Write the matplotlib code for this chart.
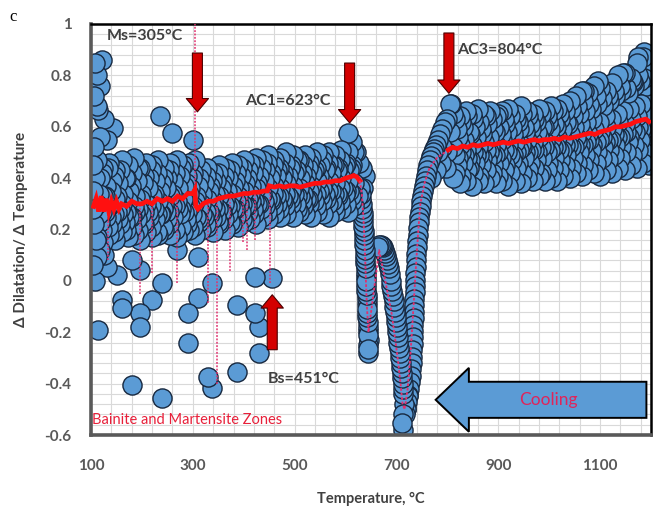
import numpy as np
import matplotlib
matplotlib.use("Agg")
import matplotlib.pyplot as plt
from matplotlib.ticker import FixedLocator

# ---------------- data ----------------
x_ticks = [100, 300, 500, 700, 900, 1100]
y_ticks = [-0.6, -0.4, -0.2, 0.0, 0.2, 0.4, 0.6, 0.8, 1.0]
y_tick_labels = ["-0.6", "-0.4", "-0.2", "0", "0.2", "0.4", "0.6", "0.8", "1"]

# low-temperature band (bainite / martensite / ferrite region)
low_a_T = [112, 124, 136, 148, 160, 172, 184, 196, 208, 220, 232, 244, 256, 268, 280,
           292, 304, 316, 328, 340, 352, 364, 376, 388, 400, 412, 424, 436, 448, 460,
           472, 484, 496, 508, 520, 532, 544, 556, 568, 580, 592, 604, 616]
low_row1 = [0.47, 0.44, 0.46, 0.43, 0.47, 0.45, 0.48, 0.44, 0.46, 0.45, 0.47, 0.44, 0.46, 0.47, 0.45,
            0.46, 0.47, 0.43, 0.44, 0.42, 0.45, 0.44, 0.46, 0.45, 0.47, 0.46, 0.48, 0.47, 0.49, 0.47,
            0.48, 0.50, 0.49, 0.47, 0.49, 0.48, 0.50, 0.49, 0.50, 0.49, 0.51, 0.50, 0.50]
low_row3 = [0.30, 0.33, 0.29, 0.32, 0.30, 0.31, 0.29, 0.32, 0.30, 0.33, 0.31, 0.30, 0.33, 0.31, 0.32,
            0.34, 0.31, 0.30, 0.32, 0.31, 0.33, 0.32, 0.34, 0.33, 0.35, 0.34, 0.36, 0.34, 0.36, 0.37,
            0.36, 0.38, 0.37, 0.36, 0.38, 0.37, 0.39, 0.38, 0.39, 0.38, 0.40, 0.39, 0.38]
low_row5 = [0.17, 0.15, 0.18, 0.16, 0.19, 0.17, 0.18, 0.16, 0.19, 0.17, 0.18, 0.20, 0.18, 0.17, 0.19,
            0.20, 0.18, 0.20, 0.21, 0.19, 0.22, 0.20, 0.22, 0.21, 0.23, 0.24, 0.22, 0.25, 0.24, 0.26,
            0.25, 0.26, 0.25, 0.27, 0.26, 0.25, 0.27, 0.26, 0.25, 0.27, 0.28, 0.27, 0.29]
low_b_T = [118, 130, 142, 154, 166, 178, 190, 202, 214, 226, 238, 250, 262, 274, 286,
           298, 310, 322, 334, 346, 358, 370, 382, 394, 406, 418, 430, 442, 454, 466,
           478, 490, 502, 514, 526, 538, 550, 562, 574, 586, 598, 610]
low_row2 = [0.40, 0.37, 0.39, 0.38, 0.40, 0.37, 0.39, 0.38, 0.40, 0.39, 0.38, 0.40, 0.39, 0.41, 0.38,
            0.40, 0.37, 0.38, 0.37, 0.39, 0.38, 0.40, 0.39, 0.41, 0.40, 0.42, 0.41, 0.43, 0.42, 0.43,
            0.42, 0.44, 0.43, 0.42, 0.44, 0.43, 0.45, 0.44, 0.45, 0.44, 0.45, 0.44]
low_row4 = [0.23, 0.25, 0.22, 0.24, 0.23, 0.25, 0.24, 0.23, 0.25, 0.24, 0.26, 0.24, 0.25, 0.26, 0.24,
            0.26, 0.24, 0.25, 0.26, 0.25, 0.27, 0.26, 0.28, 0.27, 0.29, 0.28, 0.30, 0.29, 0.31, 0.30,
            0.31, 0.32, 0.30, 0.31, 0.32, 0.31, 0.33, 0.32, 0.31, 0.33, 0.34, 0.33]
low_c_T = [121, 133, 145, 157, 169, 181, 193, 205, 217, 229, 241, 253, 265, 277, 289,
           301, 313, 325, 337, 349, 361, 373, 385, 397, 409, 421, 433, 445, 457, 469,
           481, 493, 505, 517, 529, 541, 553, 565, 577, 589, 601, 613]
low_row_c1 = [0.42, 0.44, 0.41, 0.43, 0.40, 0.42, 0.44, 0.41, 0.43, 0.42, 0.40, 0.43, 0.42, 0.44, 0.41,
              0.42, 0.40, 0.41, 0.39, 0.42, 0.41, 0.43, 0.42, 0.44, 0.43, 0.45, 0.44, 0.46, 0.45, 0.44,
              0.46, 0.45, 0.47, 0.45, 0.46, 0.44, 0.47, 0.46, 0.45, 0.47, 0.46, 0.45]
low_row_c2 = [0.27, 0.29, 0.26, 0.28, 0.27, 0.25, 0.28, 0.27, 0.29, 0.26, 0.28, 0.27, 0.29, 0.28, 0.27,
              0.29, 0.28, 0.27, 0.29, 0.28, 0.30, 0.29, 0.31, 0.30, 0.32, 0.31, 0.33, 0.32, 0.34, 0.33,
              0.34, 0.35, 0.33, 0.34, 0.35, 0.34, 0.36, 0.35, 0.34, 0.36, 0.35, 0.34]
low_row_c3 = [0.20, 0.21, 0.19, 0.22, 0.20, 0.21, 0.20, 0.22, 0.21, 0.19, 0.21, 0.22, 0.20, 0.21, 0.22,
              0.21, 0.23, 0.22, 0.24, 0.23, 0.24, 0.23, 0.25, 0.24, 0.27, 0.26, 0.28, 0.27, 0.29, 0.28,
              0.29, 0.30, 0.28, 0.29, 0.30, 0.29, 0.31, 0.30, 0.29, 0.31, 0.30, 0.31]
low_d_T = [115, 127, 139, 151, 163, 175, 187, 199, 211, 223, 235, 247, 259, 271, 283,
           295, 307, 319, 331, 343, 355, 367, 379, 391, 403, 415, 427, 439, 451, 463,
           475, 487, 499, 511, 523, 535, 547, 559, 571, 583, 595, 607]
low_row_d1 = [0.34, 0.33, 0.35, 0.33, 0.34, 0.35, 0.33, 0.34, 0.36, 0.34, 0.35, 0.36, 0.34, 0.36, 0.37,
              0.36, 0.33, 0.34, 0.35, 0.34, 0.36, 0.35, 0.37, 0.36, 0.38, 0.37, 0.38, 0.39, 0.40, 0.41,
              0.40, 0.41, 0.42, 0.40, 0.41, 0.42, 0.41, 0.43, 0.42, 0.43, 0.44, 0.43]
low_row_d2 = [0.26, 0.27, 0.25, 0.27, 0.26, 0.25, 0.27, 0.26, 0.27, 0.28, 0.26, 0.27, 0.29, 0.28, 0.27,
              0.29, 0.25, 0.26, 0.27, 0.28, 0.27, 0.29, 0.28, 0.30, 0.29, 0.31, 0.30, 0.31, 0.32, 0.33,
              0.32, 0.33, 0.34, 0.33, 0.32, 0.34, 0.35, 0.34, 0.35, 0.34, 0.36, 0.35]

# high-temperature band (austenite)
high_a_T = [812, 824, 836, 848, 860, 872, 884, 896, 908, 920, 932, 944, 956, 968, 980, 992, 1004,
            1016, 1028, 1040, 1052, 1064, 1076, 1088, 1100, 1112, 1124, 1136, 1148, 1160, 1172, 1184, 1196]
high_row1 = [0.65, 0.64, 0.66, 0.65, 0.67, 0.65, 0.66, 0.64, 0.66, 0.67, 0.65, 0.68, 0.66, 0.65, 0.67, 0.66, 0.68,
             0.67, 0.69, 0.70, 0.72, 0.74, 0.73, 0.76, 0.75, 0.74, 0.77, 0.80, 0.81, 0.79, 0.85, 0.87, 0.84]
high_row3 = [0.52, 0.53, 0.51, 0.53, 0.52, 0.54, 0.52, 0.53, 0.55, 0.53, 0.54, 0.53, 0.55, 0.54, 0.56, 0.54, 0.55,
             0.56, 0.55, 0.57, 0.56, 0.58, 0.57, 0.59, 0.58, 0.60, 0.59, 0.62, 0.61, 0.63, 0.64, 0.65, 0.63]
high_row5 = [0.40, 0.38, 0.39, 0.37, 0.39, 0.38, 0.40, 0.38, 0.39, 0.37, 0.39, 0.38, 0.40, 0.39, 0.41, 0.39, 0.40,
             0.39, 0.41, 0.40, 0.42, 0.41, 0.43, 0.42, 0.41, 0.43, 0.42, 0.44, 0.43, 0.45, 0.44, 0.46, 0.45]
high_b_T = [818, 830, 842, 854, 866, 878, 890, 902, 914, 926, 938, 950, 962, 974, 986, 998,
            1010, 1022, 1034, 1046, 1058, 1070, 1082, 1094, 1106, 1118, 1130, 1142, 1154, 1166, 1178, 1190]
high_row2 = [0.59, 0.60, 0.58, 0.60, 0.59, 0.61, 0.59, 0.60, 0.61, 0.60, 0.62, 0.60, 0.61, 0.62, 0.60, 0.62,
             0.61, 0.63, 0.62, 0.64, 0.65, 0.66, 0.67, 0.69, 0.68, 0.70, 0.72, 0.74, 0.73, 0.76, 0.78, 0.76]
high_row4 = [0.45, 0.46, 0.44, 0.46, 0.45, 0.47, 0.45, 0.46, 0.45, 0.47, 0.46, 0.48, 0.46, 0.47, 0.48, 0.46,
             0.48, 0.47, 0.49, 0.48, 0.50, 0.49, 0.51, 0.50, 0.52, 0.51, 0.53, 0.52, 0.54, 0.53, 0.55, 0.54]
high_c_T = [815, 827, 839, 851, 863, 875, 887, 899, 911, 923, 935, 947, 959, 971, 983, 995,
            1007, 1019, 1031, 1043, 1055, 1067, 1079, 1091, 1103, 1115, 1127, 1139, 1151, 1163, 1175, 1187]
high_row_c1 = [0.63, 0.62, 0.64, 0.63, 0.62, 0.64, 0.63, 0.65, 0.63, 0.64, 0.63, 0.65, 0.64, 0.63, 0.65, 0.64,
               0.66, 0.65, 0.66, 0.67, 0.68, 0.70, 0.69, 0.72, 0.71, 0.72, 0.74, 0.76, 0.75, 0.78, 0.80, 0.79]
high_row_c2 = [0.49, 0.50, 0.48, 0.50, 0.49, 0.51, 0.49, 0.50, 0.51, 0.49, 0.50, 0.52, 0.50, 0.51, 0.52, 0.50,
               0.52, 0.51, 0.53, 0.52, 0.54, 0.53, 0.55, 0.54, 0.56, 0.55, 0.57, 0.56, 0.58, 0.59, 0.60, 0.59]
high_row_c3 = [0.42, 0.41, 0.43, 0.42, 0.41, 0.43, 0.42, 0.41, 0.43, 0.42, 0.44, 0.42, 0.43, 0.44, 0.42, 0.43,
               0.44, 0.43, 0.45, 0.44, 0.46, 0.45, 0.47, 0.46, 0.48, 0.47, 0.49, 0.48, 0.50, 0.49, 0.51, 0.50]
high_d_T = [821, 833, 845, 857, 869, 881, 893, 905, 917, 929, 941, 953, 965, 977, 989, 1001,
            1013, 1025, 1037, 1049, 1061, 1073, 1085, 1097, 1109, 1121, 1133, 1145, 1157, 1169, 1181, 1193]
high_row_d1 = [0.56, 0.55, 0.57, 0.56, 0.57, 0.56, 0.58, 0.57, 0.58, 0.57, 0.59, 0.58, 0.59, 0.58, 0.60, 0.59,
               0.60, 0.59, 0.61, 0.60, 0.61, 0.62, 0.63, 0.62, 0.64, 0.63, 0.65, 0.66, 0.67, 0.68, 0.69, 0.70]
high_row_d2 = [0.48, 0.49, 0.47, 0.49, 0.48, 0.50, 0.49, 0.48, 0.50, 0.49, 0.51, 0.50, 0.51, 0.50, 0.52, 0.51,
               0.52, 0.51, 0.53, 0.52, 0.53, 0.54, 0.53, 0.55, 0.54, 0.55, 0.56, 0.57, 0.56, 0.58, 0.59, 0.58]
peak_T = [807, 1069, 1096, 1145, 1165, 1175, 1187]
peak_v = [0.69, 0.74, 0.78, 0.81, 0.775, 0.87, 0.89]

# transformation region
ac1_T = [604, 612, 620, 626, 632, 638, 624, 634]
ac1_v = [0.575, 0.54, 0.50, 0.46, 0.44, 0.41, 0.33, 0.36]
col_left_T = [628, 631, 633, 634, 635, 636, 637, 638, 639, 640, 640, 641, 642, 642, 643, 644, 644, 645, 645]
col_left_v = [0.36, 0.32, 0.28, 0.25, 0.21, 0.18, 0.14, 0.10, 0.07, 0.03, 0.0, -0.04, -0.07, -0.11,
              -0.14, -0.18, -0.21, -0.25, -0.28]
col_left2_T = [630, 632, 634, 635, 636, 637, 638, 639, 640, 641, 641, 642, 643, 643, 644, 645, 646, 644]
col_left2_v = [0.34, 0.30, 0.265, 0.23, 0.195, 0.16, 0.12, 0.085, 0.05, 0.015, -0.02, -0.055, -0.09,
               -0.125, -0.16, -0.195, -0.23, -0.265]
col_mid_T = [664, 669, 674, 678, 682, 685, 689, 692, 695, 698, 700, 702, 704, 706, 708, 710, 712, 713, 714]
col_mid_v = [0.13, 0.14, 0.13, 0.11, 0.08, 0.05, 0.0, -0.04, -0.08, -0.12, -0.16, -0.20, -0.24, -0.28,
             -0.32, -0.36, -0.40, -0.44, -0.48]
col_mid2_T = [666, 671, 676, 680, 684, 687, 690, 693, 696, 699, 701, 703, 705, 707, 709, 711, 713]
col_mid2_v = [0.14, 0.135, 0.12, 0.095, 0.065, 0.025, -0.02, -0.06, -0.10, -0.14, -0.18, -0.22, -0.26,
              -0.30, -0.34, -0.38, -0.42]
rise_T = [716, 721, 725, 728, 730, 731, 732, 733, 734, 735, 736, 737, 738, 740, 742, 744, 746, 749, 752,
          756, 760, 765, 771, 778, 786, 795, 805]
rise_v = [-0.52, -0.47, -0.42, -0.37, -0.32, -0.27, -0.22, -0.17, -0.12, -0.07, -0.02, 0.03, 0.08, 0.13,
          0.18, 0.23, 0.27, 0.31, 0.35, 0.39, 0.43, 0.47, 0.50, 0.53, 0.57, 0.62, 0.69]
rise2_T = [718, 723, 727, 729, 731, 732, 733, 734, 735, 736, 737, 738, 739, 741, 743, 745, 748, 750,
           754, 758, 762, 768, 774, 782, 790, 800]
rise2_v = [-0.50, -0.445, -0.395, -0.345, -0.295, -0.245, -0.195, -0.145, -0.095, -0.045, 0.005, 0.055,
           0.105, 0.155, 0.205, 0.25, 0.29, 0.33, 0.37, 0.41, 0.45, 0.485, 0.515, 0.55, 0.59, 0.63]
knee_T = [768, 778, 788, 798, 790, 800, 806, 781]
knee_v = [0.40, 0.43, 0.46, 0.44, 0.52, 0.50, 0.58, 0.50]
bottom_T = [712, 711, 712, 718, 722]
bottom_v = [-0.52, -0.555, -0.58, -0.50, -0.45]

# scattered points below 500 °C and at the start of the record
edge_T = [108, 121, 112, 118, 105, 112, 114, 125, 143, 118, 132, 106, 104, 108, 104, 103, 106, 110,
          118, 126, 104, 108]
edge_v = [0.85, 0.86, 0.80, 0.76, 0.72, 0.68, 0.665, 0.63, 0.595, 0.56, 0.55, 0.52, 0.45, 0.40, 0.35,
          0.28, 0.22, 0.16, 0.12, 0.10, 0.06, 0.0]
out_T = [112, 131, 151, 181, 196, 239, 160, 160, 196, 220, 196, 114, 181, 239, 311, 338, 311, 291,
         291, 330, 338, 387, 387, 423, 456, 423, 430, 430, 269, 236, 260, 301]
out_v = [0.093, 0.055, 0.023, 0.08, 0.043, -0.008, -0.074, -0.105, -0.124, -0.074, -0.18, -0.19,
         -0.405, -0.455, 0.093, -0.008, -0.066, -0.125, -0.24, -0.375, -0.418, -0.095, -0.355,
         0.016, 0.012, -0.125, -0.18, -0.28, 0.12, 0.64, 0.575, 0.55]

# smoothed curve
avg_low_T = [105, 110, 115, 120, 125, 130, 135, 140, 145, 150, 155, 160, 170, 180, 190, 200, 210,
             220, 230, 240, 250, 260, 270, 280, 290, 300, 304, 306, 310, 320, 330, 340, 350, 360,
             370, 380, 390, 400, 410, 420, 430, 440, 446, 450, 460, 470, 480, 490, 500, 510, 520,
             530, 540, 550, 560, 570, 580, 590, 600, 610, 616, 622, 628]
avg_low_v = [0.29, 0.32, 0.27, 0.33, 0.27, 0.32, 0.27, 0.31, 0.28, 0.31, 0.28, 0.30, 0.29, 0.31,
             0.30, 0.30, 0.31, 0.30, 0.32, 0.31, 0.32, 0.31, 0.33, 0.32, 0.34, 0.34, 0.355, 0.29,
             0.28, 0.30, 0.31, 0.31, 0.32, 0.325, 0.33, 0.33, 0.335, 0.34, 0.34, 0.345, 0.345,
             0.35, 0.35, 0.37, 0.365, 0.37, 0.365, 0.37, 0.37, 0.365, 0.37, 0.375, 0.38, 0.38,
             0.385, 0.385, 0.39, 0.39, 0.40, 0.405, 0.41, 0.405, 0.39]
avg_mid_T = [628, 632, 635, 638, 640, 642, 645, 666, 675, 683, 690, 697, 703, 708, 712, 716, 722,
             727, 731, 735, 739, 743, 747, 755, 765, 780, 795, 802]
avg_mid_v = [0.39, 0.34, 0.25, 0.12, 0.0, -0.10, -0.20, 0.12, 0.03, -0.05, -0.12, -0.22, -0.31,
             -0.40, -0.48, -0.50, -0.42, -0.30, -0.18, -0.05, 0.08, 0.20, 0.30, 0.38, 0.44, 0.48,
             0.50, 0.51]
avg_high_T = [802, 810, 820, 830, 840, 850, 860, 870, 880, 890, 900, 910, 920, 930, 940, 950, 960,
              970, 980, 990, 1000, 1010, 1020, 1030, 1040, 1050, 1060, 1070, 1080, 1090, 1100, 1110,
              1120, 1130, 1140, 1150, 1160, 1170, 1180, 1190, 1196]
avg_high_v = [0.51, 0.52, 0.515, 0.525, 0.52, 0.53, 0.525, 0.53, 0.535, 0.53, 0.535, 0.54, 0.535,
              0.54, 0.545, 0.54, 0.545, 0.55, 0.545, 0.55, 0.55, 0.555, 0.55, 0.56, 0.555, 0.56,
              0.565, 0.57, 0.575, 0.57, 0.58, 0.585, 0.59, 0.6, 0.6, 0.605, 0.61, 0.62, 0.625,
              0.63, 0.62]

# downward excursions of the smoothed curve in the bainite/martensite range
spike_T = [134, 196, 220, 269, 330, 348, 373, 399, 407, 423, 452]
spike_low = [0.08, -0.05, 0.03, -0.01, -0.085, -0.40, 0.04, 0.15, 0.12, 0.16, -0.01]

# critical temperatures
Ms, Bs, AC1, AC3 = 305, 451, 623, 804

# ---------------- figure ----------------
plt.rcParams["font.family"] = ["Lato", "DejaVu Sans"]
fig = plt.figure(figsize=(6.6, 5.11), dpi=100)
ax = fig.add_axes([91 / 660, 1 - 435 / 511, (651 - 91) / 660, (435 - 24) / 511])
ax.set_xlim(100, 1200)
ax.set_ylim(-0.6, 1.0)

ax.set_xticks(x_ticks)
ax.set_xticklabels([str(t) for t in x_ticks])
ax.set_yticks(y_ticks)
ax.set_yticklabels(y_tick_labels)
ax.xaxis.set_minor_locator(FixedLocator(np.arange(100, 1201, 40)))
ax.yaxis.set_minor_locator(FixedLocator(np.arange(-0.6, 1.001, 0.04)))
ax.grid(which="both", color="#d9d9d9", lw=0.8)
ax.set_axisbelow(True)
ax.tick_params(which="both", length=0)
ax.tick_params(axis="y", pad=14, labelsize=11, labelcolor="#595959")
ax.tick_params(axis="x", pad=17, labelsize=11, labelcolor="#595959")
for lab in ax.get_xticklabels() + ax.get_yticklabels():
    lab.set_fontweight("bold")

for side in ("left", "bottom"):
    ax.spines[side].set_linewidth(2.6)
    ax.spines[side].set_color("#595959")
for side in ("top", "right"):
    ax.spines[side].set_linewidth(1.8)
    ax.spines[side].set_color("black")

ax.set_xlabel("Temperature, \u00b0C", fontsize=10.5, fontweight="bold", color="#404040", labelpad=14)
ax.set_ylabel("\u0394 Dilatation/ \u0394 Temperature", fontsize=11, fontweight="bold",
              color="#404040", labelpad=12)

# measured points, drawn in cooling order (high temperature first)
groups = [
    (low_a_T, low_row1), (low_c_T, low_row_c1), (low_b_T, low_row2), (low_d_T, low_row_d1),
    (low_a_T, low_row3), (low_d_T, low_row_d2), (low_c_T, low_row_c2), (low_b_T, low_row4),
    (low_c_T, low_row_c3), (low_a_T, low_row5),
    (edge_T, edge_v), (out_T, out_v), (ac1_T, ac1_v),
    (col_left_T, col_left_v), (col_left2_T, col_left2_v), (col_mid_T, col_mid_v),
    (col_mid2_T, col_mid2_v), (bottom_T, bottom_v), (rise_T, rise_v), (rise2_T, rise2_v),
    (knee_T, knee_v), (high_a_T, high_row1), (high_c_T, high_row_c1), (high_b_T, high_row2),
    (high_d_T, high_row_d1), (high_a_T, high_row3), (high_d_T, high_row_d2),
    (high_c_T, high_row_c2), (high_b_T, high_row4), (high_c_T, high_row_c3),
    (high_a_T, high_row5), (peak_T, peak_v),
]
pts_T = np.concatenate([np.asarray(t, float) for t, _ in groups])
pts_v = np.concatenate([np.asarray(v, float) for _, v in groups])
order = np.argsort(-pts_T, kind="stable")
ax.scatter(pts_T[order], pts_v[order], s=190, facecolor="#5b9bd5", edgecolor="#17283f",
           linewidth=1.0, zorder=2)

# smoothed curve
ax.plot(avg_low_T, avg_low_v, color="#ff1010", lw=3.4, zorder=4, solid_joinstyle="miter")
ax.plot(avg_mid_T, avg_mid_v, color="#e0306e", lw=1.3, ls=(0, (1.5, 1)), zorder=4)
ax.plot(avg_high_T, avg_high_v, color="#ff1010", lw=3.4, zorder=4)
spike_top = np.interp(spike_T, avg_low_T, avg_low_v)
ax.vlines(spike_T, spike_low, spike_top, colors="#e0306e", lw=1.1, linestyles=(0, (1.2, 1)), zorder=3)
ax.vlines([Ms], [0.355], [1.0], colors="#e0306e", lw=1.1, linestyles=(0, (1.2, 1)), zorder=3)

# marker arrows
arrow_kw = dict(arrowstyle="simple,head_length=0.6,head_width=1.0,tail_width=0.45",
                mutation_scale=16, fc="#d40000", ec="#4a0000", lw=0.8, shrinkA=0, shrinkB=0)
ax.annotate("", xy=(309, 0.658), xytext=(309, 0.887), arrowprops=arrow_kw, zorder=6)
ax.annotate("", xy=(608, 0.615), xytext=(608, 0.848), arrowprops=arrow_kw, zorder=6)
ax.annotate("", xy=(803, 0.73), xytext=(803, 0.965), arrowprops=arrow_kw, zorder=6)
ax.annotate("", xy=(456, -0.054), xytext=(456, -0.268), arrowprops=arrow_kw, zorder=6)

label_kw = dict(fontsize=11.5, fontweight="bold", color="#404040", va="center", ha="left", zorder=7)
ax.text(131, 0.953, f"Ms={Ms}\u00b0C", **label_kw)
ax.text(403, 0.70, f"AC1={AC1}\u00b0C", **label_kw)
ax.text(820, 0.899, f"AC3={AC3}\u00b0C", **label_kw)
ax.text(448, -0.381, f"Bs={Bs}\u00b0C", **label_kw)
ax.text(102, -0.541, "Bainite and Martensite Zones", fontsize=10.5, color="#e8203a",
        va="center", ha="left", zorder=7)

# cooling direction
ax.annotate("", xy=(777, -0.463), xytext=(1191, -0.463),
            arrowprops=dict(arrowstyle="simple,head_length=0.52,head_width=1.0,tail_width=0.565",
                            mutation_scale=46, fc="#5b9bd5", ec="black", lw=1.4,
                            shrinkA=0, shrinkB=0, joinstyle="miter"), zorder=6)
ax.text(998, -0.463, "Cooling", fontsize=12.5, color="#e0245a", ha="center", va="center", zorder=7)

fig.text(13 / 660, 1 - 17 / 511, "c", fontsize=12, family="Liberation Serif", ha="center", va="center")

fig.savefig("out.png", dpi=100)
